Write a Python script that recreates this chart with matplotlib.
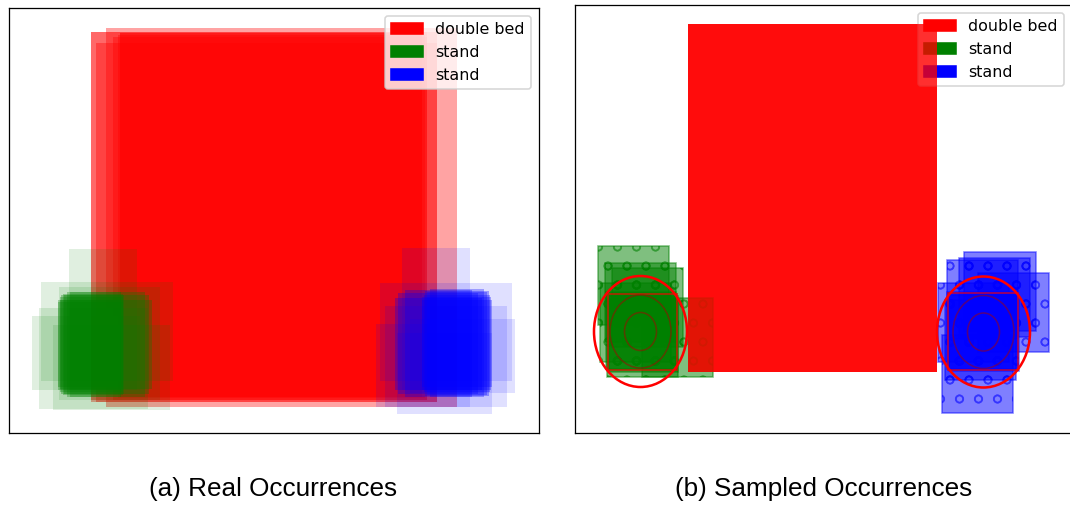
import matplotlib
matplotlib.use("Agg")
import matplotlib.pyplot as plt
from matplotlib.patches import Rectangle, Ellipse, Patch

# all boxes are (x0, y0, x1, y1) in pixel units
# (a) real occurrences
real_beds = [(91, 32, 437, 402), (91, 32, 427, 400), (96, 43, 437, 402),
             (106, 28, 457, 407), (113, 37, 427, 400), (120, 33, 422, 397),
             (120, 33, 422, 397), (118, 35, 425, 398)]
real_green_outer = [(69, 249, 137, 390), (41, 282, 173, 381), (32, 316, 140, 390),
                    (39, 308, 148, 409), (53, 325, 170, 410), (59, 287, 160, 400)]
real_green_core = [(58, 302, 123, 387), (60, 297, 123, 392), (63, 294, 123, 395),
                   (67, 292, 121, 397), (58, 300, 121, 390), (61, 295, 124, 394),
                   (60, 300, 152, 389), (64, 295, 149, 394), (70, 292, 145, 397)]
real_blue_outer = [(402, 248, 470, 390), (380, 283, 512, 381), (376, 324, 470, 407),
                   (397, 333, 492, 414), (410, 319, 515, 393), (385, 306, 507, 407)]
real_blue_core = [(422, 300, 492, 387), (424, 295, 490, 392), (427, 292, 487, 395),
                  (430, 289, 484, 397), (422, 297, 491, 390), (425, 291, 489, 396),
                  (395, 298, 482, 390), (398, 293, 478, 394), (405, 290, 472, 397)]

# (b) sampled occurrences
sampled_bed = (688, 24, 937, 372)
sampled_green = [(598, 246, 669, 325), (605, 263, 676, 342), (612, 268, 683, 347),
                 (600, 283, 671, 362), (607, 299, 678, 377), (642, 298, 713, 377),
                 (608, 294, 677, 370), (609, 296, 678, 372), (606, 292, 676, 369)]
sampled_blue = [(964, 252, 1036, 331), (959, 258, 1030, 337), (947, 260, 1018, 339),
                (938, 283, 1009, 362), (978, 273, 1049, 352), (945, 300, 1016, 380),
                (942, 335, 1013, 413), (948, 293, 1018, 370), (949, 295, 1019, 371),
                (947, 292, 1017, 369)]
green_mean_box = (608, 294, 677, 370)
blue_mean_box = (948, 293, 1018, 370)
green_center = (640.5, 331.5)
blue_center = (983.5, 332)
ellipse_sizes = [(93, 111), (61, 73), (32, 38)]

labels = ["double bed", "stand", "stand"]
colors = ["red", "green", "blue"]
captions = ["(a) Real Occurrences", "(b) Sampled Occurrences"]

DPI = 114
W, H = 1070, 506


def add_boxes(ax, boxes, color, alpha, **kw):
    for x0, y0, x1, y1 in boxes:
        ax.add_patch(Rectangle((x0, y0), x1 - x0, y1 - y0, facecolor=color,
                               alpha=alpha, **kw))


def clean(ax):
    ax.set_xticks([])
    ax.set_yticks([])


fig = plt.figure(figsize=(W / DPI, H / DPI), dpi=DPI)

# left panel, pixel coords of the picture
ax1 = fig.add_axes([9 / W, (H - 433) / H, 530 / W, 425 / H])
ax1.set_xlim(9, 539)
ax1.set_ylim(433, 8)
clean(ax1)
add_boxes(ax1, real_beds, "red", 0.36, lw=0)
add_boxes(ax1, real_green_outer, "green", 0.12, lw=0)
add_boxes(ax1, real_green_core, "green", 0.3, lw=0)
add_boxes(ax1, real_blue_outer, "blue", 0.12, lw=0)
add_boxes(ax1, real_blue_core, "blue", 0.3, lw=0)

handles = [Patch(color=c, label=l) for c, l in zip(colors, labels)]
ax1.legend(handles=handles, loc="upper right", fontsize=10)

# right panel, runs past the picture's right edge
ax2 = fig.add_axes([575 / W, (H - 433) / H, 497 / W, 428 / H])
ax2.set_xlim(575, 1072)
ax2.set_ylim(433, 5)
clean(ax2)
add_boxes(ax2, [sampled_bed], "red", 0.78, lw=0, zorder=1)
add_boxes(ax2, sampled_green, "green", 0.5, edgecolor="green", lw=1, hatch="o", zorder=2)
add_boxes(ax2, sampled_blue, "blue", 0.5, edgecolor="blue", lw=1, hatch="o", zorder=2)
ax2.legend(handles=handles, loc="upper right", fontsize=10)
# the bed sits over the legend in the original
add_boxes(ax2, [sampled_bed], "red", 0.78, lw=0, zorder=6)

for box, (cx, cy) in [(green_mean_box, green_center), (blue_mean_box, blue_center)]:
    x0, y0, x1, y1 = box
    ax2.add_patch(Rectangle((x0, y0), x1 - x0, y1 - y0, fill=False,
                            edgecolor="red", alpha=0.6, lw=1.2, zorder=3))
    for i, (w, h) in enumerate(ellipse_sizes):
        if i == 0:
            ax2.add_patch(Ellipse((cx, cy), w, h, fill=False, edgecolor="red",
                                  lw=1.6, zorder=4))
        else:
            ax2.add_patch(Ellipse((cx, cy), w, h, fill=False, edgecolor="#aa0000",
                                  alpha=0.5, lw=1, zorder=4))

fig.text(273 / W, 1 - 496 / H, captions[0], ha="center", va="baseline",
         fontsize=16.5, family="Liberation Sans")
fig.text(824 / W, 1 - 496 / H, captions[1], ha="center", va="baseline",
         fontsize=16.5, family="Liberation Sans")

fig.savefig("out.png", dpi=DPI)
